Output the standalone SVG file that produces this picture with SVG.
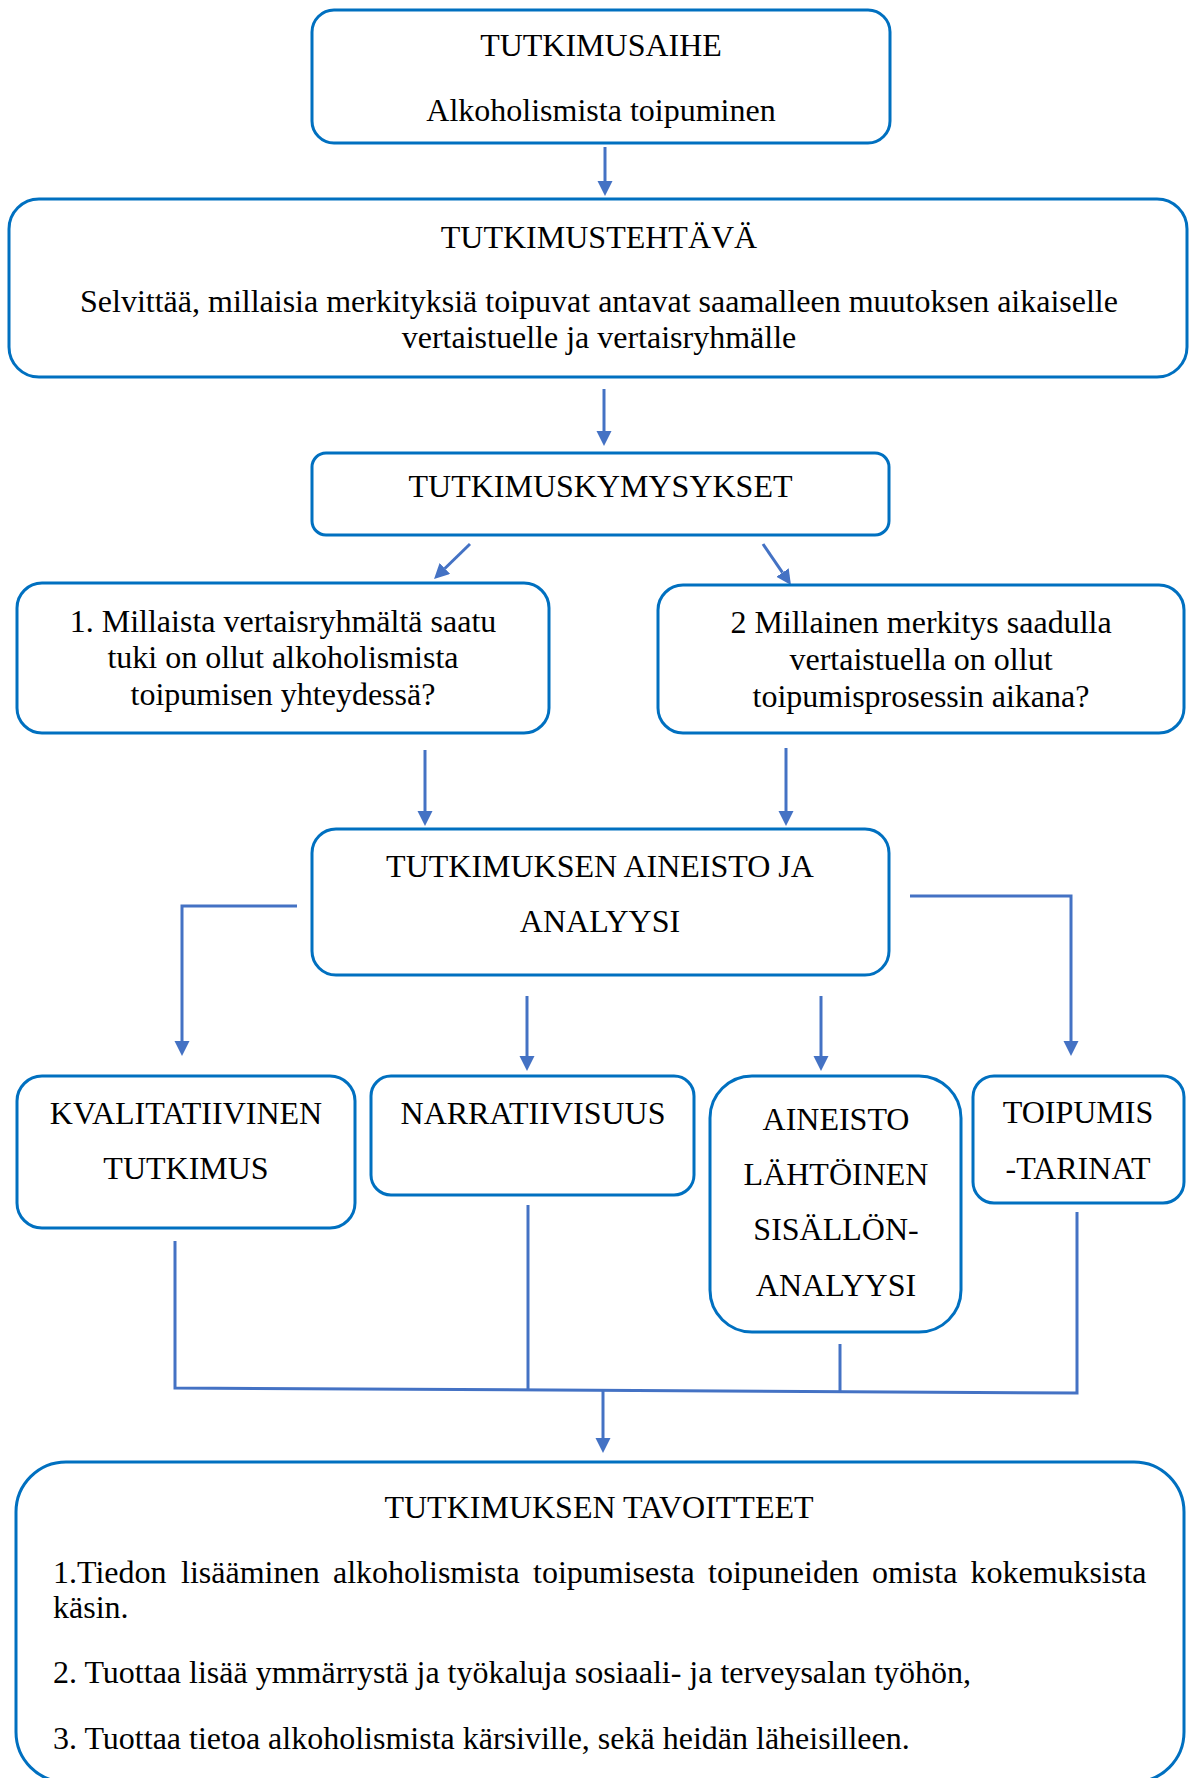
<svg xmlns="http://www.w3.org/2000/svg" width="1189" height="1778" viewBox="0 0 1189 1778">
<style>
.box{fill:#fff;stroke:#0070C0;stroke-width:3}
.t{font-family:"Liberation Serif","Times New Roman",serif;font-size:32px;fill:#000}
.c{text-anchor:middle}
.ln{fill:none;stroke:#4472C4;stroke-width:3}
.ar{fill:none;stroke:#4472C4;stroke-width:3;marker-end:url(#ah)}
</style>
<defs>
<marker id="ah" markerUnits="userSpaceOnUse" markerWidth="16" markerHeight="16" refX="0" refY="7.5" orient="auto">
<path d="M0,0 L15,7.5 L0,15 z" fill="#4472C4"/>
</marker>
</defs>
<rect width="1189" height="1778" fill="#fff"/>
<g id="connectors">
<path class="ar" d="M605,147 V181"/>
<path class="ar" d="M604,389 V431"/>
<path class="ar" d="M470,544 L444.8,568.5"/>
<path class="ar" d="M763,544 L782.5,572.6"/>
<path class="ar" d="M425,750 V811"/>
<path class="ar" d="M786,748 V811"/>
<path class="ar" d="M297,906 H182 V1041"/>
<path class="ar" d="M910,896 H1071 V1041"/>
<path class="ar" d="M527,996 V1056"/>
<path class="ar" d="M821,996 V1056"/>
<path class="ln" d="M175,1241 V1388 L1077,1393 V1212"/>
<path class="ln" d="M528,1205 V1389.5"/>
<path class="ln" d="M840,1344 V1391"/>
<path class="ar" d="M603,1390 V1438"/>
</g>
<g id="n1">
<rect class="box" x="312" y="10" width="578" height="133" rx="22"/>
<text class="t c" x="601" y="56">TUTKIMUSAIHE</text>
<text class="t c" x="601" y="121">Alkoholismista toipuminen</text>
</g>
<g id="n2">
<rect class="box" x="9" y="199" width="1178" height="178" rx="30"/>
<text class="t c" x="599" y="248">TUTKIMUSTEHTÄVÄ</text>
<text class="t c" x="599" y="312">Selvittää, millaisia merkityksiä toipuvat antavat saamalleen muutoksen aikaiselle</text>
<text class="t c" x="599" y="348">vertaistuelle ja vertaisryhmälle</text>
</g>
<g id="n3">
<rect class="box" x="312" y="453" width="577" height="82" rx="14"/>
<text class="t c" x="600.5" y="497">TUTKIMUSKYMYSYKSET</text>
</g>
<g id="n4">
<rect class="box" x="17" y="583" width="532" height="150" rx="25"/>
<text class="t c" x="283" y="632">1. Millaista vertaisryhmältä saatu</text>
<text class="t c" x="283" y="668">tuki on ollut alkoholismista</text>
<text class="t c" x="283" y="705">toipumisen yhteydessä?</text>
</g>
<g id="n5">
<rect class="box" x="658" y="585" width="526" height="148" rx="25"/>
<text class="t c" x="921" y="633">2 Millainen merkitys saadulla</text>
<text class="t c" x="921" y="670">vertaistuella on ollut</text>
<text class="t c" x="921" y="707">toipumisprosessin aikana?</text>
</g>
<g id="n6">
<rect class="box" x="312" y="829" width="577" height="146" rx="24"/>
<text class="t c" x="600" y="877">TUTKIMUKSEN AINEISTO JA</text>
<text class="t c" x="600" y="932">ANALYYSI</text>
</g>
<g id="n7">
<rect class="box" x="17" y="1076" width="338" height="152" rx="25"/>
<text class="t c" x="186" y="1124">KVALITATIIVINEN</text>
<text class="t c" x="186" y="1179">TUTKIMUS</text>
</g>
<g id="n8">
<rect class="box" x="371" y="1076" width="323" height="119" rx="20"/>
<text class="t c" x="533" y="1124">NARRATIIVISUUS</text>
</g>
<g id="n9">
<rect class="box" x="710" y="1076" width="251" height="256" rx="42"/>
<text class="t c" x="836" y="1130">AINEISTO</text>
<text class="t c" x="836" y="1185">LÄHTÖINEN</text>
<text class="t c" x="836" y="1240">SISÄLLÖN-</text>
<text class="t c" x="836" y="1296">ANALYYSI</text>
</g>
<g id="n10">
<rect class="box" x="973" y="1076" width="211" height="127" rx="21"/>
<text class="t c" x="1078" y="1123">TOIPUMIS</text>
<text class="t c" x="1078" y="1179">-TARINAT</text>
</g>
<g id="n11">
<rect class="box" x="16" y="1462" width="1168" height="320" rx="50"/>
<text class="t c" x="599" y="1518">TUTKIMUKSEN TAVOITTEET</text>
<text class="t" y="1583"><tspan x="53">1.Tiedon</tspan><tspan x="181">lisääminen</tspan><tspan x="333">alkoholismista</tspan><tspan x="533">toipumisesta</tspan><tspan x="708">toipuneiden</tspan><tspan x="872">omista</tspan><tspan x="970.5">kokemuksista</tspan></text>
<text class="t" x="53" y="1618">käsin.</text>
<text class="t" x="53" y="1683">2. Tuottaa lisää ymmärrystä ja työkaluja sosiaali- ja terveysalan työhön,</text>
<text class="t" x="53" y="1749">3. Tuottaa tietoa alkoholismista kärsiville, sekä heidän läheisilleen.</text>
</g>
</svg>
